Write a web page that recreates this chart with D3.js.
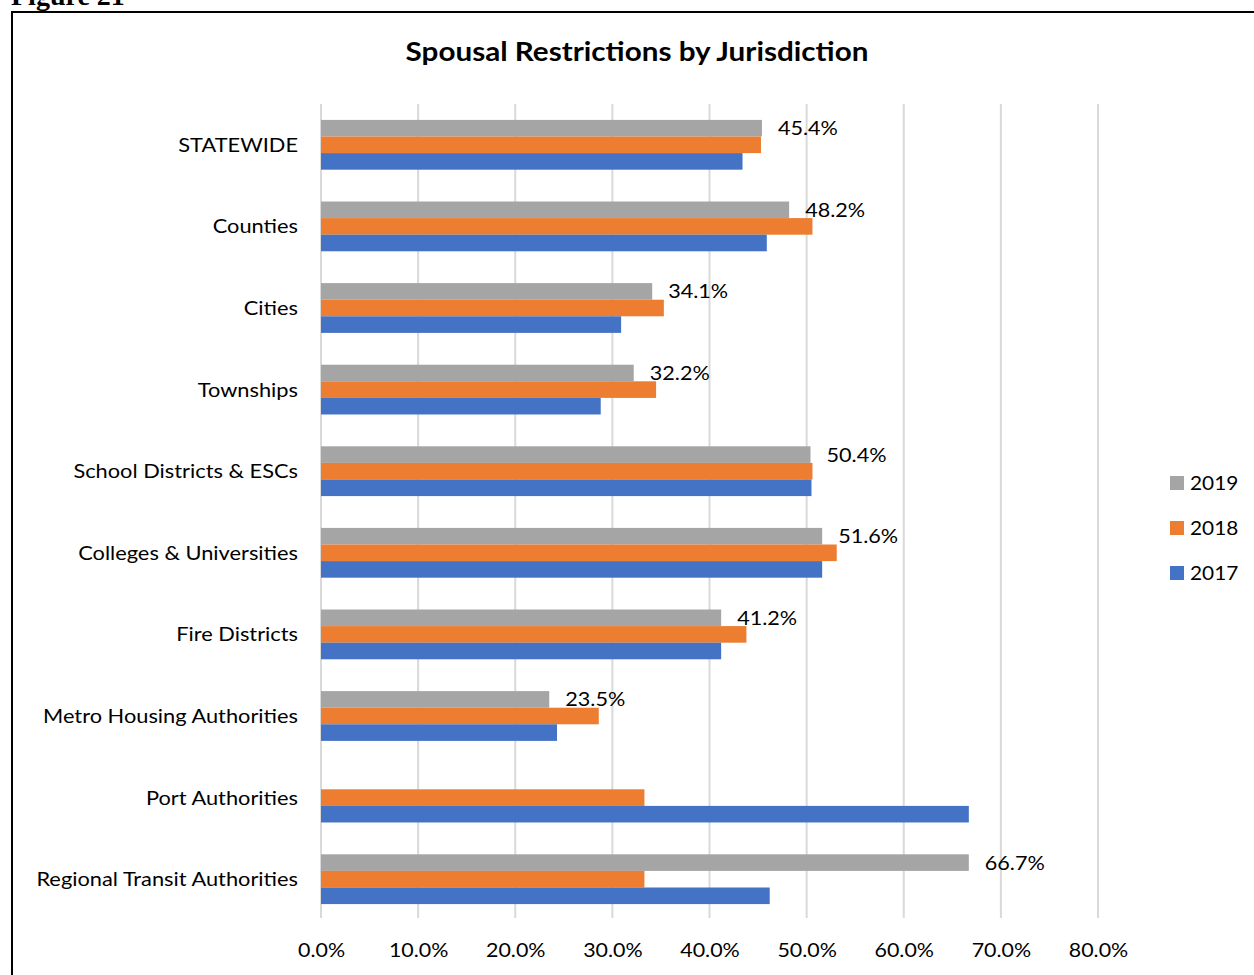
<!DOCTYPE html>
<html><head><meta charset="utf-8">
<script src="https://cdn.jsdelivr.net/npm/d3@7"></script>
<style>body{margin:0;background:#fff;} svg{display:block;}</style>
</head><body>
<svg id="c" width="1254" height="975"></svg>
<script>
const categories = ["STATEWIDE","Counties","Cities","Townships","School Districts & ESCs","Colleges & Universities","Fire Districts","Metro Housing Authorities","Port Authorities","Regional Transit Authorities"];
const series = ["2019","2018","2017"];
const v2019 = [45.4,48.2,34.1,32.2,50.4,51.6,41.2,23.5,0,66.7];
const v2018 = [45.3,50.6,35.3,34.5,50.6,53.1,43.8,28.6,33.3,33.3];
const v2017 = [43.4,45.9,30.9,28.8,50.5,51.6,41.2,24.3,66.7,46.2];
const labels2019 = ["45.4%","48.2%","34.1%","32.2%","50.4%","51.6%","41.2%","23.5%","","66.7%"];
const ticks = [0,10,20,30,40,50,60,70,80];
const colors = {"2019":"#A5A5A5","2018":"#ED7D31","2017":"#4472C4"};
const values = {"2019":v2019,"2018":v2018,"2017":v2017};

const svg = d3.select("#c");
const font = "Lato, 'Open Sans', sans-serif";
const fs = 20;
// widen glyphs a little (reference font is wider than Lato)
function stretch(sel, k){
  sel.each(function(){
    const L = this.getComputedTextLength();
    if (L > 0) d3.select(this).attr("textLength", L*k).attr("lengthAdjust","spacingAndGlyphs");
  });
}

// Figure label (clipped at top, as in the source page)
svg.append("text").attr("x",11).attr("y",5).attr("font-family","'Liberation Serif', serif")
  .attr("font-weight","bold").attr("font-size",28).text("Figure 21");
// frame
svg.append("rect").attr("x",12).attr("y",12).attr("width",1260).attr("height",980)
  .attr("fill","none").attr("stroke","#000").attr("stroke-width",2);

const title = svg.append("text").attr("x",637).attr("y",61).attr("text-anchor","middle")
  .attr("font-family",font).attr("font-weight","bold").attr("font-size",26)
  .text("Spousal Restrictions by Jurisdiction");
stretch(title, 1.14);

const x = d3.scaleLinear().domain([0,80]).range([321,1098]);
const y = d3.scaleBand().domain(categories).range([104,920]).paddingInner(0.39).paddingOuter(0.195);
const y1 = d3.scaleBand().domain(series).range([0,y.bandwidth()]);

// gridlines
svg.append("g").selectAll("line").data(ticks).join("line")
  .attr("x1",d=>x(d)).attr("x2",d=>x(d)).attr("y1",104).attr("y2",918)
  .attr("stroke","#d9d9d9").attr("stroke-width",2);

// tick labels via axis
const ax = svg.append("g").attr("transform","translate(0,918)")
  .call(d3.axisBottom(x).tickValues(ticks).tickFormat(d=>d.toFixed(1)+"%").tickSize(0).tickPadding(25));
ax.select(".domain").remove();
ax.selectAll("text").attr("font-family",font).attr("font-size",fs).attr("fill","#000");
stretch(ax.selectAll("text"), 1.07);

// category labels
const cl = svg.append("g").selectAll("text").data(categories).join("text")
  .attr("x",298).attr("y",d=>y(d)+y.bandwidth()/2).attr("dy","0.35em")
  .attr("text-anchor","end").attr("font-family",font).attr("font-size",fs).attr("fill","#000")
  .text(d=>d);
stretch(cl, 1.09);

// bars
const g = svg.append("g");
series.forEach(s=>{
  g.selectAll(null).data(categories.map((c,i)=>({c,v:values[s][i]}))).join("rect")
    .attr("x",x(0)).attr("y",d=>y(d.c)+y1(s)).attr("width",d=>x(d.v)-x(0))
    .attr("height",y1.bandwidth()).attr("fill",colors[s]);
});

// data labels for 2019
const dl = svg.append("g").selectAll("text").data(categories.map((c,i)=>({c,v:v2019[i],t:labels2019[i]}))).join("text")
  .attr("x",d=>x(d.v)+16).attr("y",d=>y(d.c)+y1("2019")+y1.bandwidth()/2).attr("dy","0.35em")
  .attr("font-family",font).attr("font-size",fs).attr("fill","#000").text(d=>d.t);
stretch(dl, 1.08);

// legend
const lg = svg.append("g");
series.forEach((s,i)=>{
  lg.append("rect").attr("x",1170).attr("y",476+i*45).attr("width",14).attr("height",14).attr("fill",colors[s]);
  const t = lg.append("text").attr("x",1190).attr("y",483+i*45).attr("dy","0.35em")
    .attr("font-family",font).attr("font-size",fs).attr("fill","#000").text(s);
  stretch(t, 1.04);
});
</script>
</body></html>
